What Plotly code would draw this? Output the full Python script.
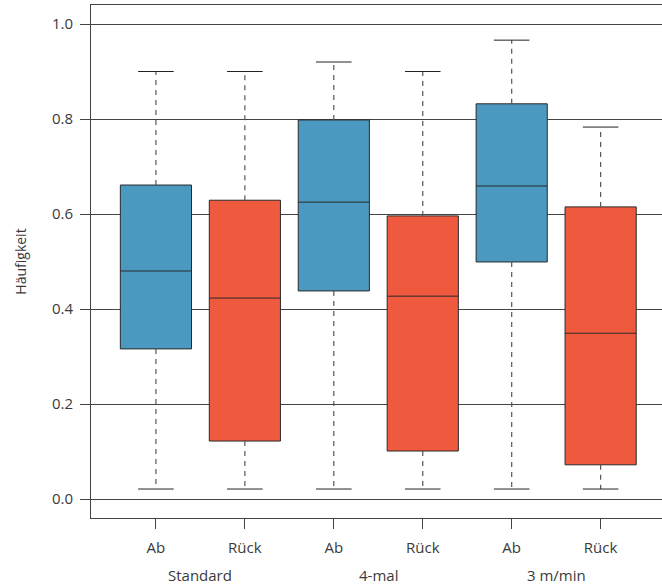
import plotly.graph_objects as go

# Data
groups = ["Standard", "Standard", "4-mal", "4-mal", "3 m/min", "3 m/min"]
labels = ["Ab", "Rück", "Ab", "Rück", "Ab", "Rück"]
positions = [1, 2, 3, 4, 5, 6]
lower = [0.021, 0.021, 0.021, 0.021, 0.021, 0.021]
q1 = [0.316, 0.122, 0.438, 0.101, 0.499, 0.072]
median = [0.480, 0.423, 0.625, 0.427, 0.659, 0.349]
q3 = [0.661, 0.629, 0.798, 0.596, 0.832, 0.615]
upper = [0.900, 0.900, 0.920, 0.900, 0.966, 0.783]
group_names = ["Standard", "4-mal", "3 m/min"]
group_centers = [1.5, 3.5, 5.5]

BLUE = "#4b98c1"
RED = "#ef5a3e"
colors = [BLUE if l == "Ab" else RED for l in labels]
FONT = "Open Sans"
TXT = "#3a3a3a"

fig = go.Figure()

cap_half = 0.2
for i, x in enumerate(positions):
    # dashed whiskers
    fig.add_trace(go.Scatter(
        x=[x, x, None, x, x], y=[q3[i], upper[i], None, q1[i], lower[i]],
        mode="lines", line=dict(color="#555555", width=1.2, dash="5px,5px"),
        hoverinfo="skip", showlegend=False))
    # caps
    fig.add_trace(go.Scatter(
        x=[x - cap_half, x + cap_half, None, x - cap_half, x + cap_half],
        y=[upper[i], upper[i], None, lower[i], lower[i]],
        mode="lines", line=dict(color="#222222", width=1),
        hoverinfo="skip", showlegend=False))
    # box
    fig.add_trace(go.Box(
        x=[x], q1=[q1[i]], median=[median[i]], q3=[q3[i]],
        lowerfence=[q1[i]], upperfence=[q3[i]],
        width=0.8, fillcolor=colors[i],
        line=dict(color="#2a2a2a", width=1), whiskerwidth=0,
        boxpoints=False, showlegend=False, hoverinfo="skip"))

for name, cx in zip(group_names, group_centers):
    fig.add_annotation(x=cx, y=-0.111, xref="x", yref="paper", text=name,
                       showarrow=False, font=dict(family=FONT, size=15, color=TXT),
                       xanchor="center", yanchor="middle")

fig.update_layout(
    width=662, height=587,
    margin=dict(l=91, r=0, t=5, b=69),
    plot_bgcolor="white", paper_bgcolor="white",
    font=dict(family=FONT, size=15, color=TXT),
    xaxis=dict(range=[0.27, 6.69], tickvals=positions, ticktext=labels,
               showgrid=False, zeroline=False, showline=True, mirror=True,
               linecolor="#444444", linewidth=1, ticks="outside", ticklen=10,
               tickcolor="#444444", ticklabelstandoff=6,
               tickfont=dict(family=FONT, size=15, color=TXT)),
    yaxis=dict(range=[-0.04, 1.04], tickvals=[0, 0.2, 0.4, 0.6, 0.8, 1.0],
               tickformat=".1f", showgrid=True, gridcolor="#444444", gridwidth=1,
               zeroline=False, showline=True, linecolor="#444444", linewidth=1,
               ticks="outside", ticklen=10, tickcolor="#444444",
               ticklabelstandoff=4,
               tickfont=dict(family=FONT, size=15, color=TXT),
               title=dict(text="Häufigkeit", standoff=22,
                          font=dict(family=FONT, size=14, color=TXT))),
)

fig.write_html("out.html")
